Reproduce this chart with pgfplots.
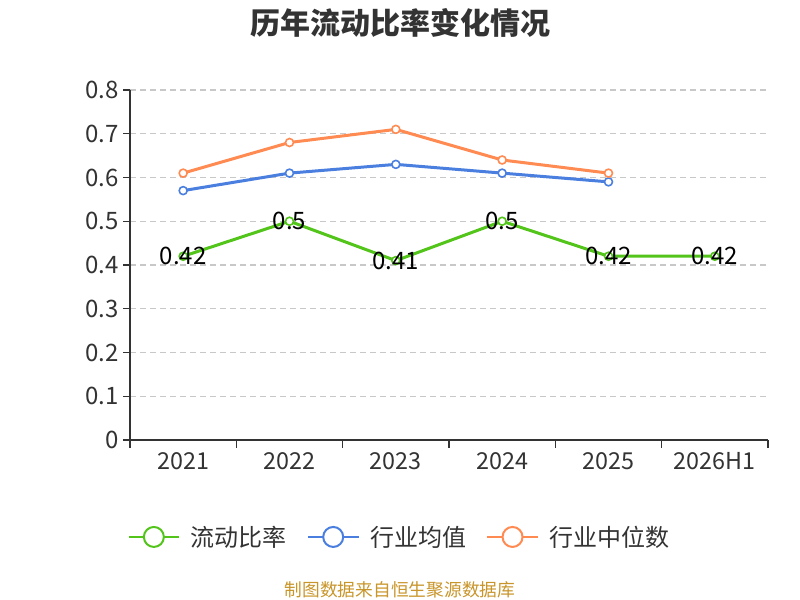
\documentclass[border=0pt]{standalone}
\usepackage{pgfplots}
\pgfplotsset{compat=1.18}
\usepackage{fontspec}
\setmainfont{Noto Sans CJK SC}
\definecolor{cgreen}{HTML}{52C41A}
\definecolor{cblue}{HTML}{4A7FE0}
\definecolor{corange}{HTML}{FF8B52}
\definecolor{ctext}{HTML}{333333}
\definecolor{cgrid}{HTML}{C8C8C8}
\definecolor{csrc}{HTML}{C8952A}
\begin{document}
\begin{tikzpicture}
\path[use as bounding box] (0,0) rectangle (600pt,450pt);
\node[font=\bfseries\fontsize{22.5}{24}\selectfont, text=ctext] at (300pt,433pt) {历年流动比率变化情况};
\node[font=\fontsize{13.3}{15}\selectfont, text=csrc] at (300pt,8pt) {制图数据来自恒生聚源数据库};
\begin{axis}[
  at={(97.5pt,120pt)}, anchor=south west, scale only axis,
  width=478.5pt, height=262.5pt,
  xmin=-0.5, xmax=5.5, ymin=0, ymax=0.8,
  axis lines=left, axis line style={-, ctext, line width=1.1pt},
  xtick={0,...,5}, xticklabels={2021,2022,2023,2024,2025,2026H1},
  minor xtick={-0.5,0.5,...,5.5},
  ytick={0,0.1,...,0.8},
  yticklabels={0,0.1,0.2,0.3,0.4,0.5,0.6,0.7,0.8},
  major x tick style={draw=none},
  minor x tick style={ctext, line width=1.1pt},
  y tick style={ctext, line width=1.1pt},
  tick align=outside, major tick length=5pt, minor tick length=6pt,
  ymajorgrids, grid style={cgrid, dash pattern=on 4.5pt off 3pt, line width=0.9pt},
  xticklabel style={font=\fontsize{17.5}{19}\selectfont, text=ctext, yshift=-1pt},
  yticklabel style={font=\fontsize{18}{20}\selectfont, text=ctext},
  /pgf/number format/assume math mode=true,
  legend style={at={(0.423,-0.277)}, anchor=center, draw=none, fill=none,
    legend columns=3, font=\fontsize{18}{20}\selectfont, text=ctext,
    /tikz/every odd column/.append style={column sep=6pt},
    /tikz/every even column/.append style={column sep=13pt}},
  legend cell align=left,
]
\addplot[cgreen, line width=2.25pt, mark=*, mark size=3pt, mark options={fill=white, line width=1.2pt},
  nodes near coords={\pgfmathprintnumber[fixed,precision=2]{\pgfplotspointmeta}},
  point meta=y,
  every node near coord/.append style={anchor=center, text=black, font=\fontsize{18}{20}\selectfont},
  legend image code/.code={\draw[cgreen,line width=1.5pt] (0pt,0pt)--(38pt,0pt); \draw[cgreen,line width=1.5pt,fill=white] (19pt,0pt) circle (7.5pt);}]
coordinates {(0,0.42) (1,0.5) (2,0.41) (3,0.5) (4,0.42) (5,0.42)};
\addlegendentry{流动比率}
\addplot[cblue, line width=2.25pt, mark=*, mark size=3pt, mark options={fill=white, line width=1.2pt},
  legend image code/.code={\draw[cblue,line width=1.5pt] (0pt,0pt)--(38pt,0pt); \draw[cblue,line width=1.5pt,fill=white] (19pt,0pt) circle (7.5pt);}]
coordinates {(0,0.57) (1,0.61) (2,0.63) (3,0.61) (4,0.59)};
\addlegendentry{行业均值}
\addplot[corange, line width=2.25pt, mark=*, mark size=3pt, mark options={fill=white, line width=1.2pt},
  legend image code/.code={\draw[corange,line width=1.5pt] (0pt,0pt)--(38pt,0pt); \draw[corange,line width=1.5pt,fill=white] (19pt,0pt) circle (7.5pt);}]
coordinates {(0,0.61) (1,0.68) (2,0.71) (3,0.64) (4,0.61)};
\addlegendentry{行业中位数}
\end{axis}
\end{tikzpicture}
\end{document}
